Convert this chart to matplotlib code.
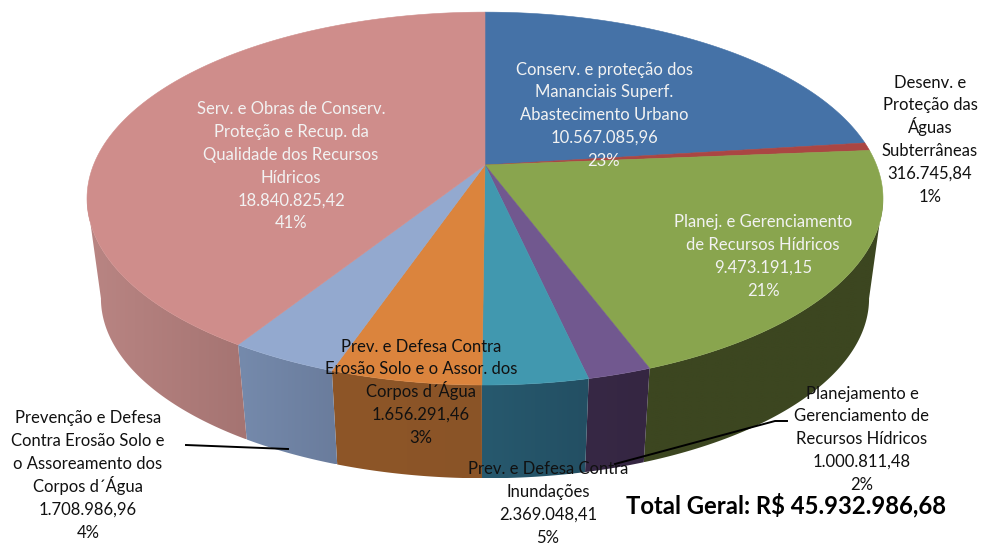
import numpy as np
import matplotlib
matplotlib.use('Agg')
import matplotlib.pyplot as plt
from matplotlib.colors import to_rgb
from matplotlib.patches import Polygon

# ordem das fatias como desenhada no original (horario a partir do topo)
categories = [
    'Conserv. e proteção dos\nMananciais Superf.\nAbastecimento Urbano',
    'Desenv. e\nProteção das\nÁguas\nSubterrâneas',
    'Planej. e Gerenciamento\nde Recursos Hídricos',
    'Planejamento e\nGerenciamento de\nRecursos Hídricos',
    'Prev. e Defesa Contra\nErosão Solo e o Assor. dos\nCorpos d´Água',
    'Prev. e Defesa Contra\nInundações',
    'Prevenção e Defesa\nContra Erosão Solo e\no Assoreamento dos\nCorpos d´Água',
    'Serv. e Obras de Conserv.\nProteção e Recup. da\nQualidade dos Recursos\nHídricos',
]
values = [10567085.96, 316745.84, 9473191.15, 1000811.48,
          1656291.46, 2369048.41, 1708986.96, 18840825.42]
percents = ['23%', '1%', '21%', '2%', '3%', '5%', '4%', '41%']
value_labels = ['10.567.085,96', '316.745,84', '9.473.191,15', '1.000.811,48',
                '1.656.291,46', '2.369.048,41', '1.708.986,96', '18.840.825,42']
total_label = 'Total Geral: R$ 45.932.986,68'

top_colors = ['#4572A7', '#AA4643', '#89A54E', '#71588F',
              '#4198AF', '#DB843D', '#93A9CF', '#CF8D8B']
# cor da lateral em cada ponta da fatia (sentido horario)
side_colors = [('#2f4d72', '#2f4d72'), ('#6e2e2c', '#6e2e2c'),
               ('#3c4620', '#3c4620'), ('#352642', '#372845'),
               ('#234f63', '#27596e'), ('#8a5427', '#8e5628'),
               ('#6a7c9c', '#758aac'), ('#a57472', '#b98583')]

# centro x e y da primeira linha de cada rotulo, em pixels
label_x = [604, 930, 763, 862, 421, 548, 88, 291]
label_y = [69, 82, 222, 393, 346, 469, 418, 109]
label_colors = ['#f2f2f2', '#111111', '#f2f2f2', '#111111',
                '#111111', '#111111', '#111111', '#f2f2f2']

CX, CY = 485, 165
A, B, K = 391.5, 180.4, 0.18
LINE_H = 22.8


def project(theta, dy=0.0, scale=1.0):
    # circulo -> elipse com perspectiva; theta em sentido horario a partir do topo
    u = np.sin(theta)
    v = -np.cos(theta)
    den = 1 - K * v
    return CX + scale * A * u / den, CY + dy + scale * B * v / den


fig = plt.figure(figsize=(9.86, 5.45), dpi=100)
ax = fig.add_axes([0, 0, 1, 1])
ax.axis('off')

fracs = np.array(values) / np.sum(values)
edges = np.concatenate([[0], np.cumsum(fracs)]) * 2 * np.pi
# pontos de tangencia da silhueta (extremos em x da elipse)
side_lo, side_hi = np.arccos(-K), 2 * np.pi - np.arccos(-K)

# laterais primeiro, com degrade horizontal recortado pela fatia
for i in range(len(values)):
    t0, t1 = max(edges[i], side_lo), min(edges[i + 1], side_hi)
    if t1 <= t0:
        continue
    ts = np.linspace(t0, t1, 160)
    x1, y1 = project(ts)
    x2, y2 = project(ts[::-1], dy=101, scale=0.965)
    xs, ys = np.r_[x1, x2], np.r_[y1, y2]
    poly = Polygon(np.c_[xs, ys], closed=True, facecolor='none', edgecolor='none')
    ax.add_patch(poly)
    g = np.linspace(0, 1, 64)[:, None]
    c0, c1 = np.array(to_rgb(side_colors[i][0])), np.array(to_rgb(side_colors[i][1]))
    # no lado da frente o sentido horario anda da direita para a esquerda
    grad = (c1 + (c0 - c1) * g)[None, :, :]
    im = ax.imshow(grad, extent=(xs.min(), xs.max(), ys.max(), ys.min()),
                   aspect='auto', zorder=2, interpolation='bilinear')
    im.set_clip_path(poly)

# tampo
for i in range(len(values)):
    ts = np.linspace(edges[i], edges[i + 1], 120)
    x, y = project(ts)
    ax.fill(np.r_[CX, x], np.r_[CY, y], color=top_colors[i], lw=0.4, zorder=3)

# linhas de chamada
ax.plot([186, 288], [445, 449], color='black', lw=1.4, zorder=4)
ax.plot([787, 775, 615], [421, 421, 464], color='black', lw=1.4, zorder=4)

# uma linha de cada vez para manter o espacamento igual
for i in range(len(values)):
    lines = categories[i].split('\n') + [value_labels[i], percents[i]]
    for k, line in enumerate(lines):
        ax.text(label_x[i], label_y[i] + 5.5 + k * LINE_H, line, ha='center', va='baseline',
                family='Lato', fontsize=12, color=label_colors[i], zorder=5)

ax.text(626, 513, total_label, ha='left', va='baseline', family='Lato',
        fontsize=17.2, fontweight='bold', color='black', zorder=5)

ax.set_xlim(0, 986)
ax.set_ylim(545, 0)
fig.savefig('out.png', dpi=100)
